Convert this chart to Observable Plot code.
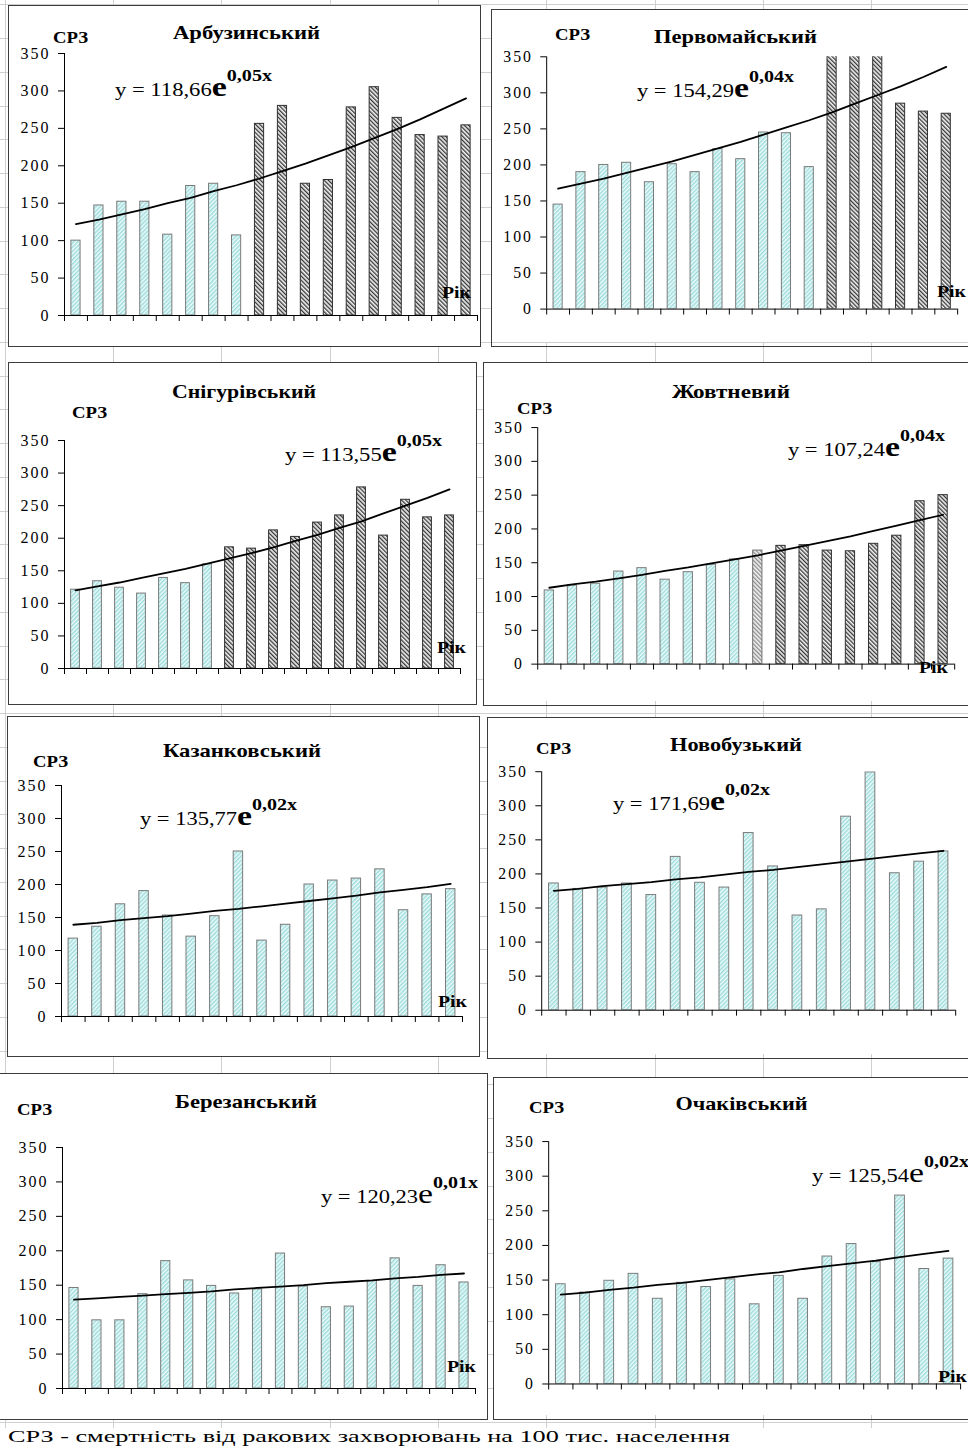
<!DOCTYPE html>
<html><head><meta charset="utf-8">
<script src="https://cdn.jsdelivr.net/npm/d3@7"></script>
<script src="https://cdn.jsdelivr.net/npm/@observablehq/plot@0.6"></script>
<style>
html,body{margin:0;padding:0;background:#fff;}
#page{position:relative;width:968px;height:1456px;overflow:hidden;background:#fff;}
#page svg.layer{position:absolute;left:0;top:0;pointer-events:none;}
.panel{position:absolute;z-index:1;}
</style></head><body><div id="page"></div>
<script>
// ---------------- DATA ----------------
const regionNames = ["Арбузинський","Первомайський","Снігурівський","Жовтневий","Казанковський","Новобузький","Березанський","Очаківський"];
const equationCoef = ["118,66","154,29","113,55","107,24","135,77","171,69","120,23","125,54"];
const equationExp = ["0,05x","0,04x","0,05x","0,04x","0,02x","0,02x","0,01x","0,02x"];
const equationBoldE = [true,true,true,true,true,true,false,false];
const yTicks = [0,50,100,150,200,250,300,350];
const yLabel = "СРЗ";
const xLabel = "Рік";
const caption = "СРЗ - смертність від ракових захворювань на 100 тис. населення";

const arbuzynskyiValues = [100,147,152,152,108,173,176,107,256,280,176,181,278,305,264,241,239,254];
const arbuzynskyiGroups = "LLLLLLLLDDDDDDDDDD";
const arbuzynskyiTrend  = [122,128,135,142,150,157,166,174,183,193,203,214,225,237,249,262,276,290];

const pervomaiskyiValues = [145,190,200,203,176,201,190,222,208,245,244,197,370,370,370,285,274,271];
const pervomaiskyiGroups = "LLLLLLLLLLLLDDDDDD";
const pervomaiskyiTrend  = [167,174,181,189,197,205,214,223,232,242,252,262,273,285,297,309,322,336];

const snihurivskyiValues = [121,134,124,115,139,131,160,186,184,212,202,224,235,278,204,259,232,235];
const snihurivskyiGroups = "LLLLLLLDDDDDDDDDDD";
const snihurivskyiTrend  = [120,126,132,139,146,153,161,169,177,186,196,205,216,226,238,250,262,275];

const zhovtnevyiValues = [109,116,119,137,142,125,136,147,155,168,175,176,168,167,178,190,241,250];
const zhovtnevyiGroups = "LLLLLLLLLMDDDDDDDD";
const zhovtnevyiTrend  = [113,118,122,127,132,138,143,149,155,161,168,175,182,189,197,205,213,221];

const kazankovskyiValues = [118,136,170,190,153,121,152,250,115,139,200,206,209,223,161,185,193];
const kazankovskyiGroups = "LLLLLLLLLLLLLLLLL";
const kazankovskyiTrend  = [139,142,146,149,152,156,160,163,167,171,175,179,183,188,192,196,201];

const novobuzkyiValues = [186,178,180,186,169,225,187,180,260,211,139,148,284,349,201,218,233];
const novobuzkyiGroups = "LLLLLLLLLLLLLLLLL";
const novobuzkyiTrend  = [175,178,182,185,188,192,195,199,203,206,210,214,218,222,226,230,234];

const berezanskyiValues = [146,99,99,137,185,157,149,138,144,196,148,118,119,156,189,149,179,154];
const berezanskyiGroups = "LLLLLLLLLLLLLLLLLL";
const berezanskyiTrend  = [129,131,133,135,137,139,141,144,146,148,150,153,155,157,160,162,165,167];

const ochakivskyiValues = [144,132,149,159,123,146,140,151,115,156,123,184,202,176,272,166,181];
const ochakivskyiGroups = "LLLLLLLLLLLLLLLLL";
const ochakivskyiTrend  = [129,132,136,139,143,146,150,154,158,161,166,170,174,178,183,188,192];

const seriesValues = [arbuzynskyiValues,pervomaiskyiValues,snihurivskyiValues,zhovtnevyiValues,kazankovskyiValues,novobuzkyiValues,berezanskyiValues,ochakivskyiValues];
const seriesGroups = [arbuzynskyiGroups,pervomaiskyiGroups,snihurivskyiGroups,zhovtnevyiGroups,kazankovskyiGroups,novobuzkyiGroups,berezanskyiGroups,ochakivskyiGroups];
const seriesTrend = [arbuzynskyiTrend,pervomaiskyiTrend,snihurivskyiTrend,zhovtnevyiTrend,kazankovskyiTrend,novobuzkyiTrend,berezanskyiTrend,ochakivskyiTrend];

// ---------------- LAYOUT (positions, px) ----------------
const layout = [
 {box:[8,5,481,347],     frame:[64,477,315,53],     title:[246.5,39,147], srz:[53,43],    eq:[115,96],    rik:[442,298]},
 {box:[491,9,975,347],   frame:[547,964,313,57],    title:[735.5,43,163], srz:[555,40],   eq:[637,97],    rik:[937,297]},
 {box:[8,362,477,705],   frame:[64,460,668,440],    title:[244,398,144],  srz:[72,418],   eq:[285,461],   rik:[437,653]},
 {box:[483,362,975,706], frame:[538,961,668,428],   title:[731,398,118],  srz:[517,414],  eq:[788,456],   rik:[919,673]},
 {box:[7,716,480,1057],  frame:[61,462,1016,785],   title:[242,757,158],  srz:[33,767],   eq:[140,825],   rik:[438,1007]},
 {box:[487,717,975,1059],frame:[542,962,1014,772],  title:[736,751,132],  srz:[536,754],  eq:[613,810],   rik:null},
 {box:[-1,1073,488,1420],frame:[62,475,1388,1147],  title:[246,1108,142], srz:[17,1115],  eq:[321,1203],  rik:[447,1372]},
 {box:[493,1077,975,1420],frame:[549,967,1388,1142],title:[741.5,1110,132],srz:[529,1113], eq:[812,1182],  rik:[938,1382]}
];

const fills = {L: "url(#hatchLight)", D: "url(#hatchDark)", M: "url(#hatchMid)"};
const strokes = {L: "#7a7a7a", D: "#303030", M: "#707070"};
const serif = '"Liberation Serif", "Times New Roman", serif';

const page = d3.select("#page");

// background spreadsheet grid
const grid = page.append("svg").attr("class","layer").attr("width",968).attr("height",1456).style("z-index",0);
for (let x = 4.7; x < 968; x += 108.3) grid.append("line").attr("x1",Math.round(x)+0.5).attr("x2",Math.round(x)+0.5).attr("y1",0).attr("y2",1428).attr("stroke","#cfcfcf");
for (let y = 4.3; y < 1430; y += 33.75) grid.append("line").attr("x1",0).attr("x2",968).attr("y1",Math.round(y)+0.5).attr("y2",Math.round(y)+0.5).attr("stroke","#cfcfcf");

// pattern defs
const defs = page.append("svg").attr("width",0).attr("height",0).style("position","absolute").append("defs");
function hatch(id, size, angle, bg, fg, w) {
  const p = defs.append("pattern").attr("id",id).attr("patternUnits","userSpaceOnUse")
    .attr("width",size).attr("height",size).attr("patternTransform",`rotate(${angle})`);
  p.append("rect").attr("width",size).attr("height",size).attr("fill",bg);
  p.append("rect").attr("width",w).attr("height",size).attr("fill",fg);
}
hatch("hatchLight", 3, 45, "#eefbfb", "#9edcdc", 1.5);
hatch("hatchDark", 3, -45, "#f2f2f2", "#353535", 1.3);
hatch("hatchMid", 3, -45, "#f2f2f2", "#8a8a8a", 1.3);

// charts
seriesValues.forEach((values, k) => {
  const L = layout[k];
  const n = values.length;
  const rows = values.map((v, i) => ({i, v, g: seriesGroups[k][i], t: seriesTrend[k][i]}));
  const [bl, bt, br, bb] = L.box;
  const [x0, x1, y0, y350] = L.frame;
  const band = (x1 - x0) / n;
  const inset = band * 0.3;
  const chart = Plot.plot({
    width: br - bl, height: bb - bt,
    marginLeft: x0 - bl, marginRight: br - x1, marginTop: y350 - bt, marginBottom: bb - y0,
    style: {fontFamily: serif, fontSize: "16px", letterSpacing: "2px", color: "#000", background: "white", overflow: "visible"},
    x: {domain: [0, n], ticks: d3.range(n + 1), tickFormat: () => "", tickSize: 6, label: null},
    y: {domain: [0, 350], ticks: yTicks, tickSize: 6, tickPadding: 8, label: null},
    color: {type: "identity"},
    marks: [
      Plot.rect(rows, {x1: d => d.i, x2: d => d.i + 1, y1: () => 0, y2: "v", insetLeft: inset, insetRight: inset,
        fill: d => fills[d.g], stroke: d => strokes[d.g], strokeWidth: 1, clip: true}),
      Plot.line(rows, {x: d => d.i + 0.5, y: "t", stroke: "#000", strokeWidth: 1.8}),
      Plot.ruleX([0], {stroke: "#000"}),
      Plot.ruleY([0], {stroke: "#000"})
    ]
  });
  const div = page.append("div").attr("class","panel").style("left", bl + "px").style("top", bt + "px");
  div.node().appendChild(chart);
});

// text overlay + panel borders
const ov = page.append("svg").attr("class","layer").attr("width",968).attr("height",1456).style("z-index",2)
  .style("font-family", serif).attr("fill","#000");
layout.forEach((L, k) => {
  const [bl, bt, br, bb] = L.box;
  ov.append("rect").attr("x",bl+0.5).attr("y",bt+0.5).attr("width",br-bl-1).attr("height",bb-bt-1)
    .attr("fill","none").attr("stroke","#3c3c3c").attr("stroke-width",1);
  ov.append("text").attr("x",L.title[0]).attr("y",L.title[1]).attr("text-anchor","middle")
    .attr("font-size",19).attr("font-weight","bold").attr("textLength",L.title[2]).attr("lengthAdjust","spacingAndGlyphs")
    .text(regionNames[k]);
  ov.append("text").attr("x",L.srz[0]).attr("y",L.srz[1]).attr("font-size",16).attr("font-weight","bold")
    .attr("textLength",35).attr("lengthAdjust","spacingAndGlyphs").text(yLabel);
  if (L.rik) ov.append("text").attr("x",L.rik[0]).attr("y",L.rik[1]).attr("font-size",17).attr("font-weight","bold")
    .attr("textLength",29).attr("lengthAdjust","spacingAndGlyphs").text(xLabel);
  const eq = ov.append("text").attr("x",L.eq[0]).attr("y",L.eq[1]).attr("textLength",157).attr("lengthAdjust","spacingAndGlyphs");
  eq.append("tspan").attr("font-size",18).text("y = " + equationCoef[k]);
  eq.append("tspan").attr("font-size",27).attr("font-weight", equationBoldE[k] ? "bold" : "normal").text("e");
  eq.append("tspan").attr("font-size",16).attr("font-weight","bold").attr("dy",-15).text(equationExp[k]);
});
ov.append("text").attr("x",8).attr("y",1442).attr("font-size",17).attr("textLength",722).attr("lengthAdjust","spacingAndGlyphs").text(caption);
</script></body></html>
